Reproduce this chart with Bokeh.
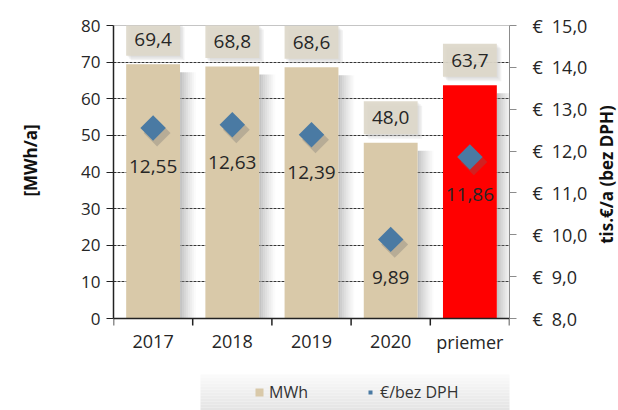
import math
from bokeh.plotting import figure
from bokeh.layouts import row
from bokeh.models import (Range1d, LinearAxis, FixedTicker, CustomJSTickFormatter,
                          ColumnDataSource, Legend, LegendItem, Span)
from bokeh.transform import dodge
from bokeh.embed import file_html
from bokeh.resources import INLINE

# ---- data ----
categories = ["2017", "2018", "2019", "2020", "priemer"]
mwh = [69.4, 68.8, 68.6, 48.0, 63.7]
eur = [12.55, 12.63, 12.39, 9.89, 11.86]
bar_colors = ["#d9c9a9", "#d9c9a9", "#d9c9a9", "#d9c9a9", "#ff0000"]
left_ticks = [0, 10, 20, 30, 40, 50, 60, 70, 80]
grid_ticks = [10, 20, 30, 40, 50, 60, 70]
right_ticks = [8, 9, 10, 11, 12, 13, 14, 15]
left_label = "[MWh/a]"
right_label = "tis.€/a (bez DPH)"
legend_labels = ["MWh", "€/bez DPH"]

FONT = "Open Sans"
TXT = "#262626"
BLUE = "#4a7aa3"

n = len(categories)
xs = [i + 0.5 for i in range(n)]
bounds_x = list(range(n + 1))

# ---- geometry (pixels of the whole 618x410 picture) ----
W, H = 618, 410
LW, RW = 45, 24             # side strips holding the rotated axis titles
PW = W - LW - RW            # main figure width
FL, FT, FW = 113, 25, 396   # frame left / top / width
AXIS_Y = 318
PLOT_H = AXIS_Y - FT
EXTRA = H - AXIS_Y

px_x = n / FW
px_m = 80 / PLOT_H
px_e = 7 / PLOT_H
BAR_W = 0.68


def dx(px):
    return (px - FL) * px_x


def dy(py):
    return (AXIS_Y - py) * px_m


src = ColumnDataSource(dict(
    x=xs, mwh=mwh, eur=eur, color=bar_colors,
    shadow_top=[v - 8 * px_m for v in mwh],
    box_y=[v + 25 * px_m for v in mwh],
    mwh_lbl=[f"{v:.1f}".replace(".", ",") for v in mwh],
    eur_lbl=[f"{v:.2f}".replace(".", ",") for v in eur],
))
cat_src = ColumnDataSource(dict(x=xs, label=categories))
tick_src = ColumnDataSource(dict(x=bounds_x))

p = figure(width=PW, height=H, x_range=Range1d(0, n),
           y_range=Range1d(-EXTRA * px_m, 80),
           x_axis_location=None, y_axis_location="left",
           output_backend="svg", toolbar_location=None,
           min_border_left=FL - LW, min_border_right=PW - (FL - LW) - FW,
           min_border_top=FT, min_border_bottom=0,
           background_fill_color="white", border_fill_color="white")
p.extra_y_ranges = {"eur": Range1d(8 - EXTRA * px_e, 15)}
p.outline_line_color = None

# grid
p.xgrid.visible = False
p.ygrid.ticker = FixedTicker(ticks=grid_ticks)
p.ygrid.grid_line_color = "#333333"
p.ygrid.grid_line_dash = "3 1"
p.ygrid.grid_line_width = 1

# top border (behind the label boxes)
p.add_layout(Span(location=80, dimension="width", line_color="#8c8c8c", line_width=1.2,
                  level="underlay"))

# bar shadows (soft gradient to the right)
for i in range(8):
    off = BAR_W / 2 + (i + 0.5) * 2 * px_x
    p.vbar(x=dodge("x", off, range=p.x_range), top="shadow_top", bottom=0, width=2 * px_x,
           source=src, fill_color="#8a8a8a", fill_alpha=0.5 * (1 - i / 8) ** 1.3, line_color=None)

bars = p.vbar(x="x", top="mwh", bottom=0, width=BAR_W, source=src,
              fill_color="color", line_color=None)

# value label boxes
for i in range(3):
    p.rect(x=dodge("x", (i + 1) * 1.5 * px_x, range=p.x_range),
           y=dodge("box_y", -(i + 1) * 1.5 * px_m, range=p.y_range),
           width=BAR_W, height=33, height_units="screen", source=src,
           fill_color="#bdbdbd", fill_alpha=0.2, line_color=None)
p.rect(x="x", y="box_y", width=BAR_W, height=33, height_units="screen", source=src,
       fill_color="#ddd7c9", fill_alpha=0.9, line_color=None)
p.text(x="x", y="box_y", text="mwh_lbl", source=src, text_align="center",
       text_baseline="middle", text_font={"value": FONT}, text_font_size="19px",
       text_color=TXT)

# diamonds
p.scatter(x=dodge("x", 4 * px_x, range=p.x_range),
          y=dodge("eur", -5 * px_e, range=p.extra_y_ranges["eur"]),
          source=src, y_range_name="eur", marker="square", angle=math.pi / 4, size=19,
          fill_color="#6b6b6b", fill_alpha=0.3, line_color=None)
diamonds = p.scatter(x="x", y="eur", source=src, y_range_name="eur", marker="square",
                     angle=math.pi / 4, size=18, fill_color=BLUE, line_color=None)
p.text(x="x", y="eur", text="eur_lbl", source=src, y_range_name="eur", y_offset=38,
       text_align="center", text_baseline="middle", text_font={"value": FONT},
       text_font_size="19px", text_color=TXT)

# x axis (drawn at value 0)
p.add_layout(Span(location=0, dimension="width", line_color="#222222", line_width=1.5))
p.segment(x0="x", x1="x", y0=0, y1=-7 * px_m, source=tick_src,
          line_color="#222222", line_width=1.5)
p.text(x="x", y=0, text="label", source=cat_src, y_offset=23, text_align="center",
       text_baseline="middle", text_font={"value": FONT}, text_font_size="18px",
       text_color=TXT)

# left axis
ya = p.yaxis[0]
ya.bounds = (0, 80)
ya.ticker = FixedTicker(ticks=left_ticks, minor_ticks=[])
ya.major_tick_out = 7
ya.major_tick_in = 0
ya.major_tick_line_color = "#222222"
ya.axis_line_color = "#222222"
ya.axis_line_width = 1.5
ya.major_label_standoff = 6
ya.major_label_text_font = FONT
ya.major_label_text_font_size = "17px"
ya.major_label_text_color = TXT

# right axis
ra = LinearAxis(y_range_name="eur", bounds=(8, 15),
                ticker=FixedTicker(ticks=right_ticks, minor_ticks=[]),
                formatter=CustomJSTickFormatter(
                    code='return "€\\u2002" + tick.toFixed(1).replace(".", ",");'))
ra.major_tick_out = 7
ra.major_tick_in = 0
ra.minor_tick_line_color = None
ra.major_tick_line_color = "#8c8c8c"
ra.axis_line_color = "#8c8c8c"
ra.major_label_standoff = 16
ra.major_label_text_font = FONT
ra.major_label_text_font_size = "18px"
ra.major_label_text_color = TXT
p.add_layout(ra, "right")

# legend panel background (gradient strips + right shadow)
BOX_L, BOX_R, BOX_T = 200, 513, 374
for i in range(5):
    p.quad(left=dx(BOX_R + i * 1.6), right=dx(BOX_R + (i + 1) * 1.6),
           top=dy(BOX_T + 4), bottom=dy(H), fill_color="#777777",
           fill_alpha=0.45 * (1 - i / 5), line_color=None)
steps = 12
for i in range(steps):
    t = i / (steps - 1)
    g = int(round(250 - t * 22))
    y0 = BOX_T + i * (H - BOX_T) / steps
    y1 = BOX_T + (i + 1) * (H - BOX_T) / steps
    p.quad(left=dx(BOX_L), right=dx(BOX_R), top=dy(y0), bottom=dy(y1),
           fill_color=f"#{g:02x}{g:02x}{g:02x}", line_color=None)

legend = Legend(items=[LegendItem(label=legend_labels[0], renderers=[bars]),
                       LegendItem(label=legend_labels[1], renderers=[diamonds])],
                orientation="horizontal", location=(141, 7), margin=0, padding=2,
                background_fill_alpha=0, border_line_color=None,
                glyph_width=10, glyph_height=10, spacing=57, label_standoff=5,
                label_text_font=FONT, label_text_font_size="16px", label_text_color="#333333")
p.add_layout(legend)


# ---- side strips with the rotated axis titles (pixel coordinates) ----
def side_strip(width, x0, text, cx, cy):
    f = figure(width=width, height=H, x_range=Range1d(x0, x0 + width),
               y_range=Range1d(-H, -FT), output_backend="svg", toolbar_location=None,
               x_axis_location=None, y_axis_location=None,
               min_border_left=0, min_border_right=0, min_border_top=FT, min_border_bottom=0,
               background_fill_color="white", border_fill_color="white")
    f.outline_line_color = None
    f.grid.visible = False
    f.text(x=[cx], y=[-cy], text=[text], angle=math.pi / 2, text_align="center",
           text_baseline="middle", text_font={"value": FONT}, text_font_style="bold",
           text_font_size="17px", text_color="#111111")
    return f


lf = side_strip(LW, 0, left_label, 30, 160)
rf = side_strip(RW, W - RW, right_label, 606, 174)

open("out.html", "w").write(file_html(row(lf, p, rf, spacing=0), INLINE))
